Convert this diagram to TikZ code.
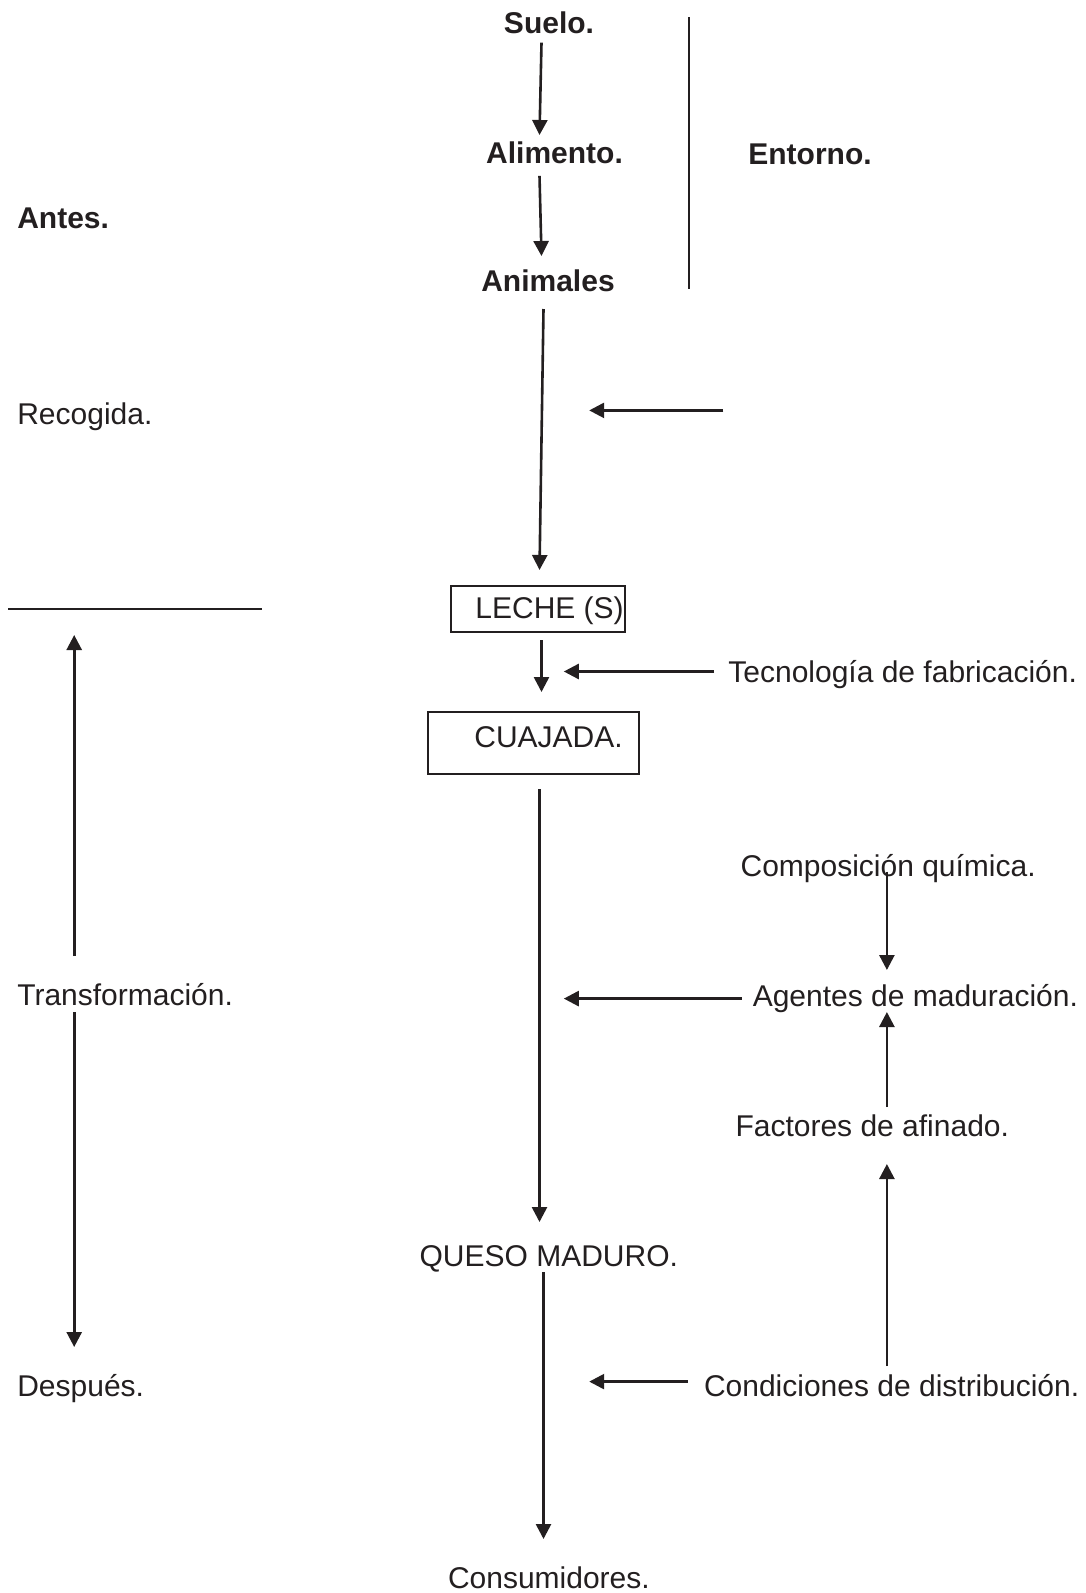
\documentclass[tikz,border=0pt]{standalone}
\usepackage{fontspec}
\setmainfont{Liberation Sans}
\usetikzlibrary{arrows.meta}
\definecolor{ink}{RGB}{35,31,32}
\begin{document}
\begin{tikzpicture}[x=1pt,y=-1pt,
  every node/.style={inner sep=0pt,outer sep=0pt,text=ink,font=\fontsize{30}{36}\selectfont},
  lbl/.style={anchor=base west},
  lblc/.style={anchor=base},
  bold/.style={font=\fontsize{30}{36}\selectfont\bfseries},
  flow/.style={draw=ink,line width=2.6pt,-{Triangle[width=15pt,length=15pt]}},
  rule/.style={draw=ink,line width=2pt},
  framebox/.style={draw=ink,line width=1.8pt,rectangle}]
\useasboundingbox (0,0) rectangle (1086,1593);

% upper chain (bold)
\node[lblc,bold] (suelo)    at (549,33)   {Suelo.};
\node[lblc,bold] (alimento) at (554.5,163) {Alimento.};
\node[lblc,bold] (animales) at (548,291)  {Animales};
\node[lblc,bold] (entorno)  at (810,164)  {Entorno.};
\node[lbl,bold]  (antes)    at (17.3,228) {Antes.};

% left-hand stage labels
\node[lbl] (recogida)  at (17.3,424)  {Recogida.};
\node[lbl] (transf)    at (17.3,1005) {Transformación.};
\node[lbl] (despues)   at (17.3,1396) {Después.};

% boxed products
\node[framebox,minimum width=174,minimum height=46] (lechebox) at (538,609) {};
\node[lbl] (leche) at (475.4,618) {LECHE (S)};
\node[framebox,minimum width=211,minimum height=62] (cuajadabox) at (533.3,743) {};
\node[lbl] (cuajada) at (474.4,747) {CUAJADA.};

\node[lbl] (queso) at (419.6,1266) {QUESO MADURO.};
\node[lbl] (consum) at (448,1588) {Consumidores.};

% influencing factors
\node[lbl] (tecno)  at (728.4,682)  {Tecnología de fabricación.};
\node[lbl] (compos) at (740.6,876)  {Composición química.};
\node[lbl] (agent)  at (752.8,1006) {Agentes de maduración.};
\node[lbl] (factor) at (735.5,1136) {Factores de afinado.};
\node[lbl] (condic) at (704,1396)   {Condiciones de distribución.};

% arrow end points
\coordinate (s1) at (541.5,42.7);  \coordinate (e1) at (539.5,135);
\coordinate (s2) at (539.5,175.8); \coordinate (e2) at (541.5,256);
\coordinate (s3) at (543.5,309);   \coordinate (e3) at (539.5,570);
\coordinate (rs) at (723.3,410.4); \coordinate (re) at (589.2,410.4);
\coordinate (s5) at (541.5,640);   \coordinate (e5) at (541.5,692);
\coordinate (ts) at (714.2,671.5); \coordinate (te) at (563.8,671.5);
\coordinate (ups)  at (74.2,956);  \coordinate (upe)  at (74.2,635);
\coordinate (dns)  at (74.2,1012); \coordinate (dne)  at (74.2,1347);
\coordinate (s9) at (539.5,789.4); \coordinate (e9) at (539.5,1222);
\coordinate (cs) at (886.9,871.6); \coordinate (ce) at (886.9,970);
\coordinate (as) at (741.6,998.6); \coordinate (ae) at (563.8,998.6);
\coordinate (fs) at (886.9,1107);  \coordinate (fe) at (886.9,1012);
\coordinate (ds) at (886.9,1366);  \coordinate (de) at (886.9,1164);
\coordinate (s14) at (543.5,1272); \coordinate (e14) at (543.5,1539);
\coordinate (ks) at (687.8,1381.6); \coordinate (ke) at (589.2,1381.6);

% separators
\coordinate (vt) at (688.8,17.3);  \coordinate (vb) at (688.8,288.5);
\coordinate (hl) at (8.1,608.5);   \coordinate (hr) at (262.1,608.5);
\draw[rule] (vt) -- (vb);
\draw[rule] (hl) -- (hr);

% main flow
\draw[flow] (s1) -- (e1);
\draw[flow] (s2) -- (e2);
\draw[flow] (s3) -- (e3);
\draw[flow] (s5) -- (e5);
\draw[flow] (s9) -- (e9);
\draw[flow] (s14) -- (e14);

% side influences
\draw[flow] (rs) -- (re);
\draw[flow] (ts) -- (te);
\draw[flow] (as) -- (ae);
\draw[flow] (ks) -- (ke);
\draw[flow] (cs) -- (ce);
\draw[flow] (fs) -- (fe);
\draw[flow] (ds) -- (de);

% time axis
\draw[flow] (ups) -- (upe);
\draw[flow] (dns) -- (dne);
\end{tikzpicture}
\end{document}
